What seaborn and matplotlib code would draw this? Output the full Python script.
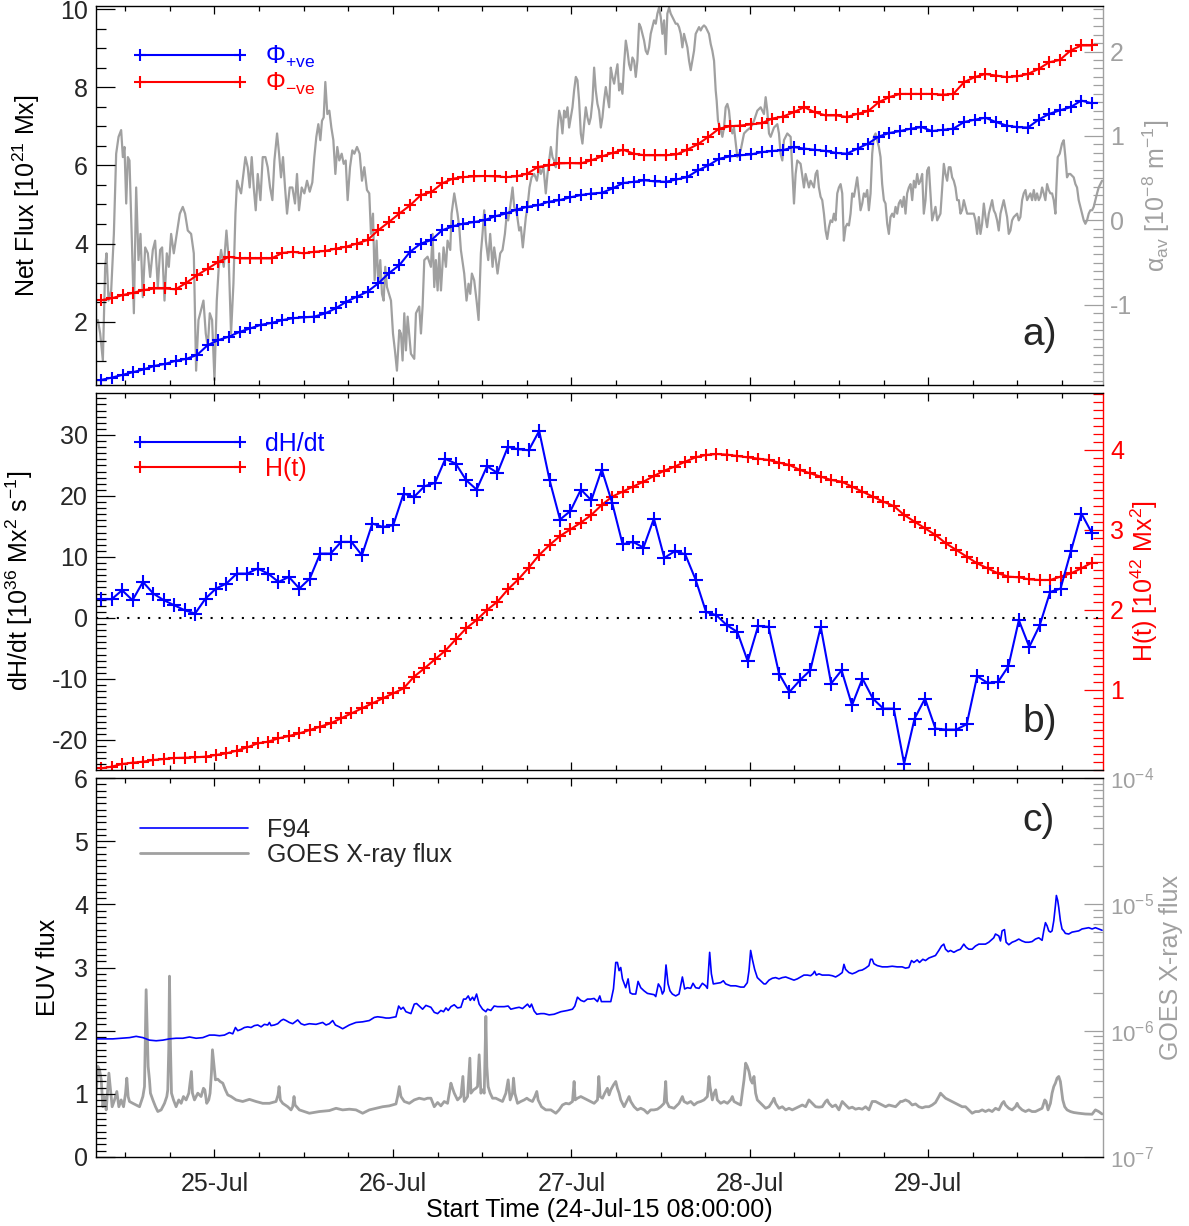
import numpy as np
import matplotlib
matplotlib.use("Agg")
import matplotlib.pyplot as plt
import seaborn as sns
from matplotlib.ticker import FixedLocator, MultipleLocator, LogLocator, NullFormatter, LogFormatterMathtext
from matplotlib.lines import Line2D

# ---------------- data (time in hours since 24-Jul-15 08:00:00) ----------------
day_ticks = [16, 40, 64, 88, 112]
day_labels = ["25-Jul", "26-Jul", "27-Jul", "28-Jul", "29-Jul"]

# panel a : unsigned fluxes [1e21 Mx]
phi_pos = [0.51, 0.57, 0.64, 0.71, 0.78, 0.87, 0.92, 1.00, 1.05, 1.15, 1.40, 1.53, 1.62, 1.74, 1.83,
           1.92, 1.97, 2.04, 2.09, 2.11, 2.13, 2.21, 2.34, 2.51, 2.64, 2.77, 2.98, 3.24, 3.45,
           3.79, 4.00, 4.09, 4.34, 4.44, 4.51, 4.55, 4.60, 4.70, 4.77, 4.87, 4.94, 4.98, 5.07, 5.11,
           5.18, 5.24, 5.28, 5.30, 5.41, 5.55, 5.58, 5.62, 5.59, 5.58, 5.64, 5.70, 5.87, 6.00, 6.17,
           6.23, 6.26, 6.28, 6.34, 6.37, 6.39, 6.47, 6.43,
           6.40, 6.37, 6.32, 6.30, 6.43, 6.56, 6.74, 6.83, 6.88, 6.94, 6.98, 6.88, 6.91, 6.94, 7.11,
           7.17, 7.22, 7.11, 7.02, 6.98, 6.97, 7.17, 7.32, 7.41, 7.49, 7.66, 7.59]
phi_neg = [2.55, 2.60, 2.68, 2.74, 2.81, 2.85, 2.85, 2.83, 3.00, 3.19, 3.36, 3.53, 3.66, 3.62, 3.62,
           3.62, 3.62, 3.76, 3.79, 3.75, 3.79, 3.81, 3.87, 3.92, 4.00, 4.09, 4.34, 4.55, 4.77, 4.98,
           5.24, 5.32, 5.54, 5.66, 5.70, 5.72, 5.73, 5.72, 5.70, 5.72, 5.79, 5.96, 6.00, 6.05, 6.06,
           6.05, 6.13, 6.23, 6.32, 6.40, 6.30, 6.26, 6.26, 6.26, 6.28, 6.40, 6.54, 6.73, 6.94, 7.00,
           7.02, 7.05, 7.08, 7.20, 7.25, 7.36, 7.49,
           7.36, 7.28, 7.28, 7.24, 7.32, 7.39, 7.62, 7.75, 7.83, 7.83, 7.83, 7.83, 7.81, 7.83, 8.13,
           8.26, 8.34, 8.30, 8.26, 8.28, 8.34, 8.47, 8.64, 8.70, 8.94, 9.07, 9.07]

# panel a : average alpha [1e-8 m^-1]  (time [h], value)
alpha_av = [
 (0.32,-1.18),(0.63,-1.34),(0.99,-1.66),(1.30,-0.55),(1.48,-0.39),(1.75,-0.95),(2.11,-0.83),(2.47,-0.16),
 (2.78,0.79),(3.10,0.99),(3.45,1.07),(3.68,0.75),(3.90,0.87),(4.13,0.20),(4.35,0.75),(4.57,0.71),
 (4.89,-0.24),(5.16,-1.10),(5.47,0.39),(5.78,-0.47),(6.05,-0.16),(6.36,-0.91),(6.68,-0.32),(7.04,-0.39),
 (7.35,-0.67),(7.71,-0.35),(8.02,-0.24),(8.38,-0.79),(8.69,-0.35),(8.96,-0.32),(9.28,-0.95),(9.59,-0.39),
 (9.86,-0.55),(10.17,-0.16),(10.53,-0.39),(10.93,-0.16),(11.34,0.08),(11.74,0.16),(12.05,0.08),(12.41,-0.12),
 (12.86,-0.16),(13.22,-0.39),(13.53,-1.78),(13.85,-1.18),(14.20,-1.06),(14.52,-0.95),(14.83,-1.34),(15.10,-1.50),
 (15.37,-1.10),(15.68,-1.18),(16.00,-1.89),(16.31,-0.95),(16.58,-0.55),(16.89,-0.35),(17.25,-0.55),(17.61,-0.12),
 (17.92,-0.47),(18.23,-1.34),(18.55,-0.75),(18.82,0.08),(19.04,0.47),(19.31,0.39),(19.58,0.32),(19.89,0.55),
 (20.16,0.75),(20.47,0.63),(20.74,0.39),(21.01,0.75),(21.28,0.39),(21.55,0.12),(21.82,0.55),(22.18,0.24),
 (22.49,0.75),(22.85,0.75),(23.16,0.63),(23.48,0.39),(23.79,0.24),(24.06,0.71),(24.42,1.03),(24.69,0.79),
 (24.95,0.51),(25.22,0.75),(25.49,0.39),(25.76,0.08),(26.12,0.39),(26.48,0.39),(26.83,0.20),(27.10,0.55),
 (27.37,0.12),(27.73,0.39),(28.09,0.32),(28.45,0.47),(28.81,0.34),(29.16,0.45),(29.43,0.75),(29.70,0.99),
 (29.97,1.14),(30.24,0.95),(30.46,1.18),(30.69,1.22),(30.91,1.64),(31.18,1.26),(31.45,1.30),(31.72,1.10),
 (31.99,0.95),(32.26,0.55),(32.52,0.87),(32.79,0.71),(33.11,0.79),(33.38,0.67),(33.65,0.71),(33.91,0.24),
 (34.23,0.63),(34.54,0.83),(34.81,0.79),(35.17,0.87),(35.53,0.79),(35.84,0.47),(36.15,0.63),(36.51,0.36),
 (36.82,0.32),(37.05,-0.16),(37.32,0.08),(37.54,-0.71),(37.81,-0.24),(38.03,-0.75),(38.30,-0.47),(38.53,-0.87),
 (38.75,-0.95),(38.97,-0.55),(39.20,-0.79),(39.47,-0.87),(39.74,-0.95),(40.01,-1.34),(40.27,-1.54),(40.54,-1.78),
 (40.86,-1.30),(41.08,-1.34),(41.30,-1.66),(41.53,-1.10),(41.75,-1.54),(41.98,-1.14),(42.42,-1.58),(42.87,-1.64),
 (43.10,-1.10),(43.54,-1.02),(43.77,-1.34),(43.99,-1.02),(44.22,-0.47),(44.66,-0.43),(45.11,-0.55),(45.34,-0.16),
 (45.56,-0.79),(45.78,-0.47),(46.01,-0.83),(46.23,-0.39),(46.46,-0.83),(46.81,-0.32),(47.13,-0.55),(47.35,-0.24),
 (47.71,-0.35),(47.89,0.08),(48.25,0.32),(48.47,0.20),(48.69,0.08),(48.92,-0.08),(49.14,-0.35),(49.59,-0.63),
 (49.90,-0.95),(50.17,-0.75),(50.40,-0.87),(50.62,-0.63),(50.93,-0.71),(51.25,-0.95),(51.52,-1.18),(51.83,-0.39),
 (52.05,-0.16),(52.28,0.12),(52.50,-0.24),(52.82,-0.47),(53.08,-0.16),(53.40,-0.55),(53.62,-0.32),(53.85,-0.47),
 (54.07,-0.63),(54.43,-0.39),(54.74,-0.35),(55.06,-0.16),(55.32,0.08),(55.50,0.00),(55.77,0.16),(56.09,0.39),
 (56.31,0.16),(56.67,0.08),(56.98,-0.12),(57.21,-0.08),(57.47,-0.32),(57.65,-0.16),(57.88,0.04),(58.10,0.16),
 (58.37,0.39),(58.64,0.51),(59.00,0.55),(59.36,0.47),(59.67,0.63),(59.89,0.55),(60.25,0.63),(60.56,0.32),
 (60.79,0.55),(61.01,0.71),(61.24,0.87),(61.46,0.75),(61.68,0.71),(61.91,0.63),(62.13,1.07),(62.36,1.30),
 (62.58,1.22),(62.80,1.03),(63.03,1.30),(63.25,1.22),(63.48,1.34),(63.70,1.10),(63.92,1.22),(64.15,1.34),
 (64.37,1.54),(64.60,1.70),(64.82,1.66),(65.04,1.42),(65.27,1.03),(65.49,0.91),(65.72,1.14),(65.94,1.34),
 (66.16,1.22),(66.39,1.14),(66.61,1.22),(66.84,1.42),(67.06,1.81),(67.28,1.54),(67.51,1.38),(67.73,1.30),
 (67.96,1.10),(68.18,1.22),(68.40,1.42),(68.63,1.58),(68.85,1.46),(69.08,1.34),(69.30,1.81),(69.52,1.70),
 (69.75,1.62),(69.97,1.74),(70.20,1.85),(70.42,1.54),(70.64,1.62),(70.87,1.50),(71.09,1.85),(71.32,2.13),
 (71.54,2.01),(71.76,1.85),(71.99,1.78),(72.21,1.93),(72.44,1.89),(72.66,1.70),(72.88,1.89),(73.11,2.33),
 (73.33,2.29),(73.56,2.21),(73.78,2.13),(74.00,2.01),(74.23,1.97),(74.45,2.05),(74.67,2.21),(74.90,2.29),
 (75.12,2.37),(75.35,2.33),(75.57,2.45),(75.79,2.52),(76.02,2.41),(76.24,2.21),(76.47,2.37),(76.69,1.97),
 (76.91,2.45),(77.14,2.52),(77.36,2.45),(77.59,2.41),(77.81,2.37),(78.03,2.33),(78.26,2.33),(78.48,2.29),
 (78.71,2.21),(78.93,2.05),(79.15,2.21),(79.38,2.13),(79.60,2.05),(79.83,1.89),(80.05,1.78),(80.27,1.89),
 (80.50,2.01),(80.72,2.21),(80.95,2.25),(81.17,2.29),(81.39,2.25),(81.62,2.29),(81.84,2.31),(82.07,2.29),
 (82.29,2.25),(82.51,2.21),(82.74,2.09),(82.96,2.01),(83.19,1.89),(83.41,1.54),(83.54,1.42),(83.72,1.18),
 (83.99,1.10),(84.31,0.99),(84.53,1.10),(84.75,1.34),(84.98,1.38),(85.20,1.30),(85.43,1.10),(85.65,1.03),
 (85.87,1.10),(86.32,0.75),(86.77,0.83),(87.22,1.03),(87.66,1.07),(88.11,1.10),(88.56,1.18),(89.01,1.30),
 (89.46,1.34),(89.90,1.26),(90.13,1.46),(90.35,1.30),(90.58,1.03),(90.80,0.99),(91.25,1.10),(91.70,1.14),
 (91.92,1.03),(92.14,0.79),(92.37,0.71),(92.59,0.95),(93.04,1.03),(93.49,0.99),(93.94,0.20),(94.16,0.55),
 (94.38,0.71),(94.83,0.67),(95.28,0.39),(95.50,0.55),(95.73,0.47),(95.95,0.39),(96.17,0.47),(96.62,0.39),
 (96.85,0.55),(97.07,0.59),(97.29,0.39),(97.52,0.28),(97.74,0.24),(97.97,0.08),(98.19,-0.12),(98.41,-0.22),
 (98.64,-0.08),(98.86,0.00),(99.09,-0.02),(99.31,0.08),(99.53,0.00),(99.76,0.32),(99.98,0.39),(100.21,0.43),
 (100.43,0.32),(100.65,-0.24),(100.88,-0.08),(101.10,-0.04),(101.33,-0.06),(101.55,0.08),(101.77,0.32),(102.00,0.28),
 (102.22,0.39),(102.44,0.51),(102.67,0.32),(102.89,0.12),(103.12,0.20),(103.34,0.32),(103.56,0.28),(103.79,0.36),
 (104.01,0.12),(104.24,0.32),(104.46,0.79),(104.68,0.99),(104.91,1.03),(105.13,0.95),(105.36,0.87),(105.58,0.75),
 (105.80,0.43),(106.03,0.24),(106.25,0.20),(106.48,-0.04),(106.70,-0.16),(106.92,0.04),(107.15,0.08),(107.37,0.04),
 (107.60,0.16),(107.82,0.08),(108.04,0.20),(108.27,0.24),(108.49,0.16),(108.72,0.28),(108.94,0.08),(109.16,0.32),
 (109.39,0.39),(109.61,0.43),(109.84,0.24),(110.06,0.47),(110.28,0.39),(110.51,0.55),(110.73,0.43),(110.96,0.47),
 (111.18,0.55),(111.40,0.08),(111.63,0.24),(111.85,0.59),(112.08,0.63),(112.30,0.32),(112.52,0.00),(112.75,0.08),
 (112.97,0.16),(113.20,0.00),(113.64,0.08),(113.87,0.39),(114.09,0.67),(114.31,0.55),(114.54,0.47),(114.76,0.63),
 (114.99,0.63),(115.21,0.51),(115.43,0.47),(115.66,0.39),(115.88,0.24),(116.11,0.24),(116.33,0.08),(116.55,0.12),
 (116.78,0.24),(117.23,0.08),(117.67,0.08),(118.12,0.08),(118.35,0.00),(118.57,-0.16),(118.80,0.04),(119.02,-0.16),
 (119.24,-0.04),(119.47,0.20),(119.69,0.04),(119.91,-0.08),(120.14,0.08),(120.36,0.16),(120.59,0.24),(120.81,0.12),
 (121.03,0.08),(121.26,0.00),(121.48,-0.12),(121.71,0.08),(121.93,0.16),(122.15,0.24),(122.60,0.04),(122.83,-0.16),
 (123.05,-0.12),(123.27,0.00),(123.50,0.04),(123.95,0.08),(124.17,0.00),(124.39,0.04),(124.62,0.24),(124.84,0.32),
 (125.07,0.36),(125.29,0.24),(125.51,0.28),(125.74,0.32),(125.96,0.24),(126.19,0.36),(126.41,0.24),(126.63,0.32),
 (126.86,0.24),(127.08,0.28),(127.31,0.39),(127.53,0.32),(127.75,0.24),(127.98,0.43),(128.20,0.36),(128.42,0.32),
 (128.65,0.32),(128.87,0.24),(129.10,0.08),(129.23,0.39),(129.41,0.75),(129.68,0.79),(129.99,0.91),(130.22,0.95),
 (130.44,0.75),(130.66,0.51),(130.89,0.55),(131.11,0.55),(131.56,0.51),(131.79,0.43),(132.01,0.39),(132.23,0.24),
 (132.46,0.16),(132.68,0.08),(132.91,0.00),(133.13,-0.04),(133.35,0.00),(133.58,0.08),(133.80,0.12),(134.03,0.12),
 (134.25,0.16),(134.47,0.24),(134.70,0.32),(134.92,0.39),(135.37,0.47)]

# panel b : helicity injection rate [1e36 Mx^2 s^-1] and accumulated helicity [1e42 Mx^2]
dhdt = [3.07, 3.07, 4.55, 2.91, 5.91, 4.00, 2.91, 2.09, 1.27, 0.72,
        3.18, 4.82, 5.64, 7.28, 7.28, 8.10, 7.28, 5.91, 6.73, 4.82,
        6.46, 10.56, 10.56, 12.47, 12.47, 10.28, 15.48, 14.93, 15.20, 20.39,
        19.85, 21.59, 22.14, 26.08, 25.31, 22.58, 21.05, 24.87, 23.78, 28.04,
        27.66, 27.50, 30.66, 22.58, 16.13, 17.55, 21.05, 19.30, 24.33, 18.86,
        12.09, 12.47, 11.54, 16.29, 9.85, 10.94, 10.45, 6.30, 1.00, 0.45,
        -1.19, -2.28, -7.09, -1.30, -1.46, -9.11, -12.12, -10.21,
        -8.57, -1.46, -10.75, -8.57, -14.30, -9.93, -13.21, -14.85, -14.85, -23.87,
        -16.49, -13.21, -18.13, -18.29, -18.29, -17.42, -9.55, -10.64, -10.48, -7.91,
        -0.37, -4.74, -1.19, 4.27, 4.82, 11.00, 17.11, 13.94]
helicity = [0.021, 0.042, 0.075, 0.092, 0.104, 0.125, 0.137, 0.150, 0.154, 0.158,
            0.167, 0.188, 0.208, 0.242, 0.283, 0.333, 0.354, 0.396, 0.425, 0.458,
            0.500, 0.542, 0.583, 0.646, 0.708, 0.771, 0.833, 0.896, 0.958, 1.021,
            1.167, 1.271, 1.383, 1.492, 1.633, 1.771, 1.875, 2.000, 2.104, 2.258,
            2.383, 2.529, 2.688, 2.813, 2.925, 3.008, 3.092, 3.188, 3.313, 3.417,
            3.479, 3.542, 3.604, 3.675, 3.742, 3.792, 3.854, 3.908, 3.938, 3.950,
            3.942, 3.925, 3.908, 3.892, 3.875, 3.842, 3.813, 3.750,
            3.708, 3.667, 3.625, 3.604, 3.542, 3.479, 3.417, 3.354, 3.300, 3.188,
            3.104, 3.021, 2.938, 2.833, 2.750, 2.667, 2.583, 2.521, 2.458, 2.417,
            2.408, 2.383, 2.375, 2.375, 2.417, 2.458, 2.521, 2.592]

# panel c : AIA 94 EUV flux (time [h], value)
f94 = [
 (0.09,1.87),(2.33,1.87),(4.57,1.89),(5.47,1.91),(6.37,1.89),(7.26,1.85),(8.16,1.84),(9.05,1.85),
 (9.95,1.87),(10.84,1.88),(11.74,1.88),(12.64,1.90),(13.53,1.88),(14.43,1.89),(15.32,1.93),(15.99,1.93),
 (16.67,1.92),(17.34,1.93),(18.01,1.97),(18.46,1.95),(18.82,2.05),(19.13,2.00),(19.58,2.02),(20.03,2.05),
 (20.47,2.06),(20.92,2.05),(21.37,2.08),(21.82,2.09),(22.27,2.06),(22.71,2.10),(23.16,2.09),(23.39,2.13),
 (23.61,2.08),(24.06,2.09),(24.51,2.11),(24.95,2.16),(25.27,2.18),(25.63,2.16),(26.07,2.13),(26.52,2.11),
 (26.97,2.15),(27.19,2.17),(27.64,2.11),(28.09,2.09),(28.76,2.11),(29.66,2.10),(30.55,2.13),(31.00,2.09),
 (31.45,2.11),(31.90,2.16),(32.26,2.09),(32.79,2.06),(33.24,2.03),(33.69,2.06),(34.14,2.09),(35.03,2.13),
 (35.93,2.14),(36.82,2.16),(37.50,2.21),(37.94,2.22),(38.62,2.21),(39.06,2.20),(39.51,2.20),(39.96,2.21),
 (40.41,2.22),(40.77,2.39),(41.08,2.34),(41.39,2.37),(41.75,2.30),(42.42,2.27),(42.87,2.42),(43.18,2.43),
 (43.63,2.38),(43.99,2.34),(44.44,2.40),(44.66,2.39),(45.11,2.37),(45.56,2.29),(46.01,2.27),(46.45,2.32),
 (46.81,2.30),(47.13,2.36),(47.44,2.32),(47.80,2.38),(48.25,2.41),(48.69,2.36),(49.14,2.37),(49.50,2.50),
 (49.81,2.50),(50.13,2.55),(50.40,2.48),(50.71,2.53),(50.93,2.48),(51.25,2.58),(51.60,2.42),(52.05,2.34),
 (52.50,2.30),(52.72,2.34),(53.17,2.32),(53.62,2.39),(54.07,2.38),(54.52,2.38),(54.96,2.38),(55.50,2.39),
 (55.86,2.34),(56.53,2.36),(56.98,2.37),(57.43,2.35),(58.10,2.42),(58.41,2.37),(58.64,2.42),(59.00,2.31),
 (59.35,2.26),(59.89,2.27),(60.34,2.27),(61.01,2.25),(61.68,2.26),(62.58,2.30),(63.48,2.32),(64.15,2.34),
 (64.46,2.39),(64.82,2.53),(65.27,2.48),(65.71,2.46),(66.16,2.50),(66.61,2.50),(67.06,2.51),(67.51,2.46),
 (67.82,2.55),(68.04,2.46),(68.63,2.46),(69.30,2.46),(69.66,2.66),(69.97,3.08),(70.19,3.08),(70.42,2.95),
 (70.64,3.00),(70.87,2.82),(71.31,2.68),(71.63,2.82),(71.90,2.60),(72.21,2.58),(72.66,2.58),(72.97,2.78),
 (73.33,2.68),(73.78,2.63),(74.23,2.59),(74.67,2.58),(75.12,2.57),(75.35,2.54),(75.70,2.74),(76.02,2.68),
 (76.24,2.58),(76.47,2.63),(76.73,3.04),(77.00,2.74),(77.27,2.63),(77.58,2.58),(78.03,2.55),(78.48,2.58),
 (78.93,2.85),(79.24,2.66),(79.60,2.68),(80.05,2.67),(80.36,2.75),(80.72,2.68),(81.17,2.67),(81.62,2.75),
 (82.06,2.71),(82.29,2.67),(82.60,3.24),(82.83,2.90),(83.09,2.74),(83.63,2.75),(84.08,2.76),(84.44,2.79),
 (84.75,2.74),(85.42,2.71),(86.10,2.71),(86.77,2.69),(87.22,2.69),(87.66,2.76),(87.89,2.95),(88.11,3.27),
 (88.34,3.13),(88.65,2.97),(89.01,2.84),(89.46,2.79),(89.90,2.74),(90.13,2.74),(90.58,2.80),(91.03,2.83),
 (91.47,2.84),(91.92,2.82),(92.37,2.84),(92.82,2.85),(93.27,2.83),(93.94,2.80),(94.39,2.82),(94.83,2.85),
 (95.28,2.88),(95.73,2.88),(96.18,2.87),(96.49,2.90),(96.71,2.94),(96.94,2.88),(97.30,2.90),(97.74,2.88),
 (98.19,2.88),(98.64,2.88),(99.09,2.87),(99.54,2.85),(99.98,2.88),(100.43,2.92),(100.66,3.05),(100.88,2.97),
 (101.33,2.92),(101.78,2.90),(102.22,2.92),(102.67,2.95),(103.12,2.96),(103.57,2.99),(104.02,3.03),(104.24,3.13),
 (104.46,3.13),(104.69,3.06),(105.14,3.03),(105.81,3.01),(106.48,3.01),(107.15,3.02),(107.82,3.01),(108.49,3.01),
 (108.94,2.99),(109.39,3.00),(109.75,3.11),(110.06,3.08),(110.51,3.12),(110.82,3.08),(111.27,3.13),(111.63,3.11),
 (112.08,3.15),(112.53,3.17),(112.97,3.19),(113.42,3.27),(113.78,3.34),(114.09,3.37),(114.32,3.29),(114.68,3.25),
 (114.99,3.27),(115.44,3.24),(115.89,3.27),(116.33,3.29),(116.78,3.37),(117.10,3.32),(117.45,3.29),(117.90,3.29),
 (118.35,3.34),(118.80,3.37),(119.25,3.37),(119.69,3.37),(120.14,3.40),(120.81,3.47),(121.04,3.53),(121.49,3.50),
 (121.71,3.42),(121.93,3.58),(122.25,3.60),(122.47,3.40),(122.83,3.36),(123.28,3.40),(123.72,3.42),(124.17,3.45),
 (124.62,3.42),(125.07,3.40),(125.52,3.40),(125.96,3.41),(126.41,3.45),(126.86,3.47),(127.31,3.43),(127.53,3.58),
 (127.76,3.71),(127.98,3.66),(128.20,3.58),(128.43,3.56),(128.65,3.58),(128.88,3.74),(129.10,3.98),(129.23,4.14),
 (129.41,4.06),(129.55,3.95),(129.77,3.74),(129.99,3.61),(130.22,3.58),(130.44,3.54),(130.89,3.53),(131.34,3.56),
 (131.79,3.57),(132.24,3.58),(132.68,3.61),(133.13,3.62),(133.58,3.63),(134.03,3.61),(134.48,3.63),(134.92,3.61),
 (135.37,3.59)]

# panel c : GOES X-ray flux [1e-7 W m^-2] (time [h], value)
goes = [
 (0.09,3.20),(0.32,5.21),(0.54,4.90),(0.77,4.08),(0.99,2.50),(1.21,3.01),(1.44,2.36),(1.80,4.61),
 (1.98,3.61),(2.24,2.50),(2.56,2.83),(2.87,3.30),(3.14,2.50),(3.45,2.83),(3.77,2.50),(4.04,3.20),
 (4.21,4.21),(4.39,3.01),(4.57,2.75),(5.02,2.66),(5.47,2.58),(5.92,2.50),(6.37,3.01),(6.59,3.61),
 (6.72,10.2),(6.81,21.1),(6.95,10.2),(7.08,5.21),(7.26,4.08),(7.39,3.20),(7.71,2.83),(8.07,2.50),
 (8.38,2.29),(8.83,2.36),(9.28,2.66),(9.59,3.01),(9.72,3.40),(9.86,7.50),(9.95,27.0),(10.08,7.50),
 (10.22,3.20),(10.49,2.83),(10.84,2.50),(11.20,2.83),(11.52,2.66),(11.83,3.01),(12.19,2.83),(12.55,3.20),
 (12.77,4.08),(12.90,4.75),(13.04,3.20),(13.31,2.83),(13.76,3.20),(14.20,3.01),(14.52,3.50),(14.70,3.40),
 (14.96,2.66),(15.23,2.83),(15.41,3.20),(15.59,4.61),(15.73,7.06),(15.86,5.88),(16.13,4.08),(16.44,4.13),
 (16.76,3.96),(17.12,3.84),(17.47,3.40),(17.79,3.10),(18.24,3.01),(18.91,2.83),(19.80,2.75),(20.70,2.86),
 (21.59,2.75),(22.49,2.66),(23.39,2.66),(24.28,2.75),(24.55,3.10),(24.69,3.61),(24.86,2.83),(25.18,2.66),
 (25.85,2.50),(26.30,2.36),(26.52,2.50),(26.70,3.01),(26.84,2.58),(27.42,2.36),(28.76,2.22),(30.11,2.29),
 (31.45,2.33),(32.35,2.43),(33.24,2.36),(34.14,2.39),(35.03,2.36),(35.93,2.22),(36.83,2.36),(37.72,2.43),
 (38.62,2.50),(39.51,2.54),(40.41,2.63),(40.63,3.01),(40.86,3.61),(41.08,3.01),(41.53,2.75),(42.20,2.66),
 (42.87,2.83),(43.54,2.92),(44.21,2.86),(44.66,2.92),(45.11,2.92),(45.56,2.50),(46.01,2.70),(46.45,2.54),
 (46.90,2.75),(47.35,2.66),(47.80,3.84),(48.02,3.50),(48.25,3.20),(48.69,2.83),(49.14,3.01),(49.41,4.34),
 (49.59,2.75),(50.04,3.01),(50.35,6.06),(50.49,3.20),(50.84,3.40),(51.16,3.50),(51.38,3.61),(51.60,6.44),
 (51.83,3.20),(52.05,3.40),(52.28,3.20),(52.50,12.97),(52.63,5.21),(52.81,3.61),(53.08,3.20),(53.40,2.92),
 (53.84,2.92),(54.29,2.83),(54.74,2.75),(55.19,3.20),(55.50,4.08),(55.77,2.83),(56.08,3.20),(56.22,4.21),
 (56.40,3.20),(56.76,2.66),(57.20,2.75),(57.65,2.83),(58.01,2.92),(58.32,2.83),(58.77,2.75),(59.09,3.01),
 (59.35,3.30),(59.53,2.83),(59.98,2.50),(60.56,2.36),(61.24,2.36),(61.91,2.22),(62.35,2.36),(62.80,2.58),
 (63.25,2.66),(63.70,2.63),(64.15,2.75),(64.37,3.96),(64.51,2.83),(64.82,2.92),(65.27,3.01),(65.71,2.92),
 (66.16,2.83),(66.61,2.75),(67.06,2.66),(67.51,2.83),(67.69,4.34),(67.87,3.01),(68.18,2.92),(68.49,3.20),
 (68.85,3.50),(69.07,3.10),(69.30,3.40),(69.66,3.72),(69.97,3.96),(70.19,3.50),(70.42,3.20),(70.64,2.83),
 (71.09,2.50),(71.54,2.83),(71.76,3.01),(71.99,2.75),(72.43,2.50),(72.88,2.36),(73.33,2.43),(73.78,2.36),
 (74.23,2.22),(74.67,2.36),(75.12,2.36),(75.57,2.39),(76.02,2.50),(76.47,2.66),(76.69,3.96),(76.82,2.75),
 (77.14,2.50),(77.81,2.43),(78.48,2.66),(78.93,3.01),(79.15,2.75),(79.60,2.66),(80.05,2.75),(80.50,2.58),
 (80.94,2.70),(81.39,2.75),(81.84,2.83),(82.29,3.01),(82.51,4.34),(82.65,3.61),(82.96,2.83),(83.19,3.20),
 (83.41,3.40),(83.63,2.83),(84.08,2.66),(84.53,2.75),(84.98,2.66),(85.42,2.83),(85.65,3.01),(85.87,2.75),
 (86.32,2.66),(86.77,2.58),(87.22,4.08),(87.44,5.53),(87.66,5.21),(87.89,4.75),(88.11,4.08),(88.34,3.84),
 (88.56,4.34),(88.78,3.20),(89.01,2.83),(89.46,2.66),(89.90,2.50),(90.13,2.43),(90.58,2.50),(91.03,2.75),
 (91.25,2.92),(91.47,2.66),(91.92,2.43),(92.37,2.50),(92.82,2.36),(93.27,2.43),(93.71,2.36),(94.16,2.43),
 (94.61,2.50),(95.06,2.58),(95.51,2.50),(95.95,2.83),(96.40,2.66),(96.85,2.50),(97.30,2.48),(97.74,2.50),
 (98.19,2.75),(98.42,2.83),(98.64,2.66),(99.09,2.50),(99.54,2.58),(99.98,2.36),(100.43,2.75),(100.88,2.58),
 (101.33,2.43),(101.78,2.48),(102.22,2.39),(102.67,2.43),(103.12,2.39),(103.57,2.50),(104.02,2.36),(104.46,2.75),
 (104.91,2.75),(105.36,2.66),(105.81,2.58),(106.26,2.50),(106.70,2.58),(107.15,2.54),(107.60,2.50),(108.05,2.66),
 (108.27,2.75),(108.49,2.75),(108.94,2.83),(109.39,2.75),(109.84,2.58),(110.29,2.63),(110.73,2.50),(111.18,2.45),
 (111.63,2.50),(112.08,2.50),(112.53,2.58),(112.97,2.70),(113.42,3.01),(113.65,3.20),(113.87,3.10),(114.32,2.92),
 (114.77,2.83),(115.21,2.75),(115.66,2.66),(116.11,2.58),(116.56,2.50),(117.01,2.50),(117.45,2.36),(117.90,2.22),
 (118.35,2.29),(118.80,2.29),(119.25,2.36),(119.69,2.29),(120.14,2.36),(120.59,2.29),(121.04,2.43),(121.49,2.36),
 (121.93,2.66),(122.16,2.75),(122.38,2.58),(122.83,2.43),(123.28,2.36),(123.72,2.50),(123.95,2.66),(124.17,2.50),
 (124.62,2.36),(125.07,2.29),(125.52,2.36),(125.96,2.29),(126.41,2.29),(126.86,2.36),(127.31,2.43),(127.67,2.83),
 (127.85,2.75),(128.11,2.36),(128.43,2.66),(128.65,3.20),(128.88,3.61),(129.10,3.84),(129.32,4.21),(129.55,4.34),
 (129.77,3.96),(129.91,3.40),(130.09,2.83),(130.35,2.50),(130.67,2.36),(131.11,2.29),(131.56,2.25),(132.24,2.22),
 (133.13,2.19),(134.03,2.18),(134.48,2.36),(134.92,2.29),(135.37,2.19)]

# ---------------- style ----------------
sns.set_theme(style="ticks")
plt.rcParams["font.family"] = ["Liberation Sans", "DejaVu Sans"]
plt.rcParams["mathtext.fontset"] = "custom"
plt.rcParams["mathtext.rm"] = "Liberation Sans"
plt.rcParams["mathtext.it"] = "Liberation Sans:italic"
plt.rcParams["mathtext.bf"] = "Liberation Sans:bold"
plt.rcParams["mathtext.default"] = "regular"
plt.rcParams["axes.unicode_minus"] = False
plt.rcParams["axes.linewidth"] = 1.0

BLUE, RED, GREY, BLACK = "#0000ff", "#ff0000", "#a0a0a0", "#000000"
FS = 18
XMAX = 135.5

fig = plt.figure(figsize=(11.89, 12.26), dpi=100)
L, W = 95.5 / 1189, (1103 - 95.5) / 1189
ax_a = fig.add_axes([L, (1226 - 385) / 1226, W, 379 / 1226])
ax_b = fig.add_axes([L, (1226 - 770) / 1226, W, 377.3 / 1226])
ax_c = fig.add_axes([L, (1226 - 1157) / 1226, W, 379 / 1226])
ax_a2, ax_b2, ax_c2 = ax_a.twinx(), ax_b.twinx(), ax_c.twinx()


def style_main(ax, show_xlabels):
    ax.set_xlim(0, XMAX)
    ax.xaxis.set_major_locator(FixedLocator(day_ticks))
    ax.xaxis.set_minor_locator(FixedLocator(np.arange(4, XMAX, 6)))
    ax.set_xticklabels(day_labels if show_xlabels else [])
    ax.tick_params(axis="x", which="both", direction="in", top=True, bottom=True,
                   width=0.9, color=BLACK, labelsize=FS, pad=10.5, labelbottom=show_xlabels)
    ax.tick_params(axis="x", which="major", length=6)
    ax.tick_params(axis="x", which="minor", length=3.5)
    ax.tick_params(axis="y", which="both", direction="in", left=True, right=False,
                   width=0.9, color=BLACK, labelsize=FS, pad=5.4)
    ax.tick_params(axis="y", which="major", length=13.7)
    ax.tick_params(axis="y", which="minor", length=7)
    for s in ["left", "top", "bottom"]:
        ax.spines[s].set_color(BLACK)
        ax.spines[s].set_linewidth(1.0)
    ax.spines["right"].set_visible(False)


def style_twin(ax2, col, lsize=FS):
    ax2.tick_params(axis="y", which="both", direction="in", right=True, left=False,
                    width=0.9, color=col, labelcolor=col, labelsize=lsize, pad=5)
    ax2.tick_params(axis="y", which="major", length=13.7)
    ax2.tick_params(axis="y", which="minor", length=7)
    for s in ["left", "top", "bottom"]:
        ax2.spines[s].set_visible(False)
    ax2.spines["right"].set_color(col)
    ax2.spines["right"].set_linewidth(1.0)


# ---------------- panel a ----------------
t_flux = np.linspace(0.77, 134.0, len(phi_pos))
at, av = zip(*alpha_av)
sns.lineplot(x=list(at), y=list(av), ax=ax_a2, color=GREY, linewidth=1.6, estimator=None, sort=False)
sns.lineplot(x=t_flux, y=phi_pos, ax=ax_a, color=BLUE, linewidth=1.5, marker="+", markersize=9,
             markeredgewidth=1.5, markeredgecolor=BLUE, estimator=None, sort=False)
sns.lineplot(x=t_flux, y=phi_neg, ax=ax_a, color=RED, linewidth=1.5, marker="+", markersize=9,
             markeredgewidth=1.5, markeredgecolor=RED, estimator=None, sort=False)
ax_a.set_zorder(ax_a2.get_zorder() + 1)
ax_a.patch.set_visible(False)
ax_a.set_ylim(0.38, 10.08)
ax_a.yaxis.set_major_locator(MultipleLocator(2))
ax_a.yaxis.set_minor_locator(MultipleLocator(0.5))
ax_a2.set_ylim(-1.95, 2.54)
ax_a2.yaxis.set_major_locator(MultipleLocator(1))
ax_a2.yaxis.set_minor_locator(MultipleLocator(0.1))
style_main(ax_a, False)
style_twin(ax_a2, GREY)
ax_a.set_xlabel("")
ax_a.set_ylabel(r"Net Flux [10$^{21}$ Mx]", fontsize=FS, color=BLACK)
ax_a.yaxis.set_label_coords(-0.053, 0.5)
ax_a2.set_ylabel(r"$\alpha_{av}$ [10$^{-8}$ m$^{-1}$]", fontsize=FS, color=GREY)
ax_a2.yaxis.set_label_coords(1.037, 0.5)
h_a = [Line2D([], [], color=BLUE, lw=1.5, marker="+", ms=9, mew=1.5),
       Line2D([], [], color=RED, lw=1.5, marker="+", ms=9, mew=1.5)]
leg = ax_a.legend(h_a, [r"$\Phi_{+ve}$", r"$\Phi_{-ve}$"], loc="center left",
                  bbox_to_anchor=(0.037, 0.830), frameon=False, handlelength=4.6,
                  handletextpad=0.68, borderpad=0, borderaxespad=0, labelspacing=0.05,
                  numpoints=2, fontsize=FS)
for txt, c in zip(leg.get_texts(), [BLUE, RED]):
    txt.set_color(c)
ax_a.text(0.92, 0.106, "a)", transform=ax_a.transAxes, fontsize=28, ha="left", va="baseline")

# ---------------- panel b ----------------
t_hel = np.linspace(0.77, 134.0, len(dhdt))
sns.lineplot(x=t_hel, y=helicity, ax=ax_b2, color=RED, linewidth=1.5, marker="+", markersize=9,
             markeredgewidth=1.5, markeredgecolor=RED, estimator=None, sort=False)
ax_b.axhline(0, color=BLACK, linestyle=(0, (1, 4)), linewidth=1.5)
sns.lineplot(x=t_hel, y=dhdt, ax=ax_b, color=BLUE, linewidth=1.5, marker="+", markersize=10,
             markeredgewidth=1.5, markeredgecolor=BLUE, estimator=None, sort=False)
ax_b.set_zorder(ax_b2.get_zorder() + 1)
ax_b.patch.set_visible(False)
ax_b.set_ylim(-24.92, 36.93)
ax_b.yaxis.set_major_locator(MultipleLocator(10))
ax_b.yaxis.set_minor_locator(MultipleLocator(1))
ax_b2.set_ylim(0.0, 4.716)
ax_b2.yaxis.set_major_locator(FixedLocator([1, 2, 3, 4]))
ax_b2.yaxis.set_minor_locator(MultipleLocator(0.1))
style_main(ax_b, False)
style_twin(ax_b2, RED)
ax_b.set_xlabel("")
ax_b.set_ylabel(r"dH/dt [10$^{36}$ Mx$^{2}$ s$^{-1}$]", fontsize=FS, color=BLACK)
ax_b.yaxis.set_label_coords(-0.060, 0.5)
ax_b2.set_ylabel(r"H(t) [10$^{42}$ Mx$^{2}$]", fontsize=FS, color=RED)
ax_b2.yaxis.set_label_coords(1.025, 0.5)
leg = ax_b.legend([Line2D([], [], color=BLUE, lw=1.5, marker="+", ms=9, mew=1.5),
                   Line2D([], [], color=RED, lw=1.5, marker="+", ms=9, mew=1.5)],
                  ["dH/dt", "H(t)"], loc="center left", bbox_to_anchor=(0.037, 0.831),
                  frameon=False, handlelength=4.6, handletextpad=0.68, borderpad=0,
                  borderaxespad=0, labelspacing=0.05, numpoints=2, fontsize=FS)
for txt, c in zip(leg.get_texts(), [BLUE, RED]):
    txt.set_color(c)
ax_b.text(0.92, 0.10, "b)", transform=ax_b.transAxes, fontsize=28, ha="left", va="baseline")

# ---------------- panel c ----------------
gt, gv = zip(*goes)
ft, fv = zip(*f94)
sns.lineplot(x=list(gt), y=[v * 1e-7 for v in gv], ax=ax_c2, color=GREY, linewidth=2.0,
             estimator=None, sort=False)
sns.lineplot(x=list(ft), y=list(fv), ax=ax_c, color=BLUE, linewidth=1.2, estimator=None, sort=False)
ax_c.set_zorder(ax_c2.get_zorder() + 1)
ax_c.patch.set_visible(False)
ax_c.set_ylim(0, 6)
ax_c.yaxis.set_major_locator(MultipleLocator(1))
ax_c.yaxis.set_minor_locator(MultipleLocator(0.1))
ax_c2.set_yscale("log")
ax_c2.set_ylim(1e-7, 1e-4)
ax_c2.yaxis.set_major_locator(LogLocator(base=10))
ax_c2.yaxis.set_major_formatter(LogFormatterMathtext(base=10))
ax_c2.yaxis.set_minor_locator(LogLocator(base=10, subs=np.arange(2, 10)))
ax_c2.yaxis.set_minor_formatter(NullFormatter())
style_main(ax_c, True)
style_twin(ax_c2, GREY, lsize=16)
ax_c.set_xlabel("Start Time (24-Jul-15 08:00:00)", fontsize=FS, labelpad=2, color=BLACK)
ax_c.set_ylabel("EUV flux", fontsize=FS, color=BLACK)
ax_c.yaxis.set_label_coords(-0.035, 0.5)
ax_c2.set_ylabel("GOES X-ray flux", fontsize=FS, color=GREY)
ax_c2.yaxis.set_label_coords(1.056, 0.5)
leg = ax_c.legend([Line2D([], [], color=BLUE, lw=1.2), Line2D([], [], color=GREY, lw=2.0)],
                  ["F94", "GOES X-ray flux"], loc="center left", bbox_to_anchor=(0.044, 0.830),
                  frameon=False, handlelength=4.32, handletextpad=0.76, borderpad=0,
                  borderaxespad=0, labelspacing=0.05, fontsize=FS)
ax_c.text(0.92, 0.861, "c)", transform=ax_c.transAxes, fontsize=28, ha="left", va="baseline")

fig.savefig("out.png", dpi=100)
